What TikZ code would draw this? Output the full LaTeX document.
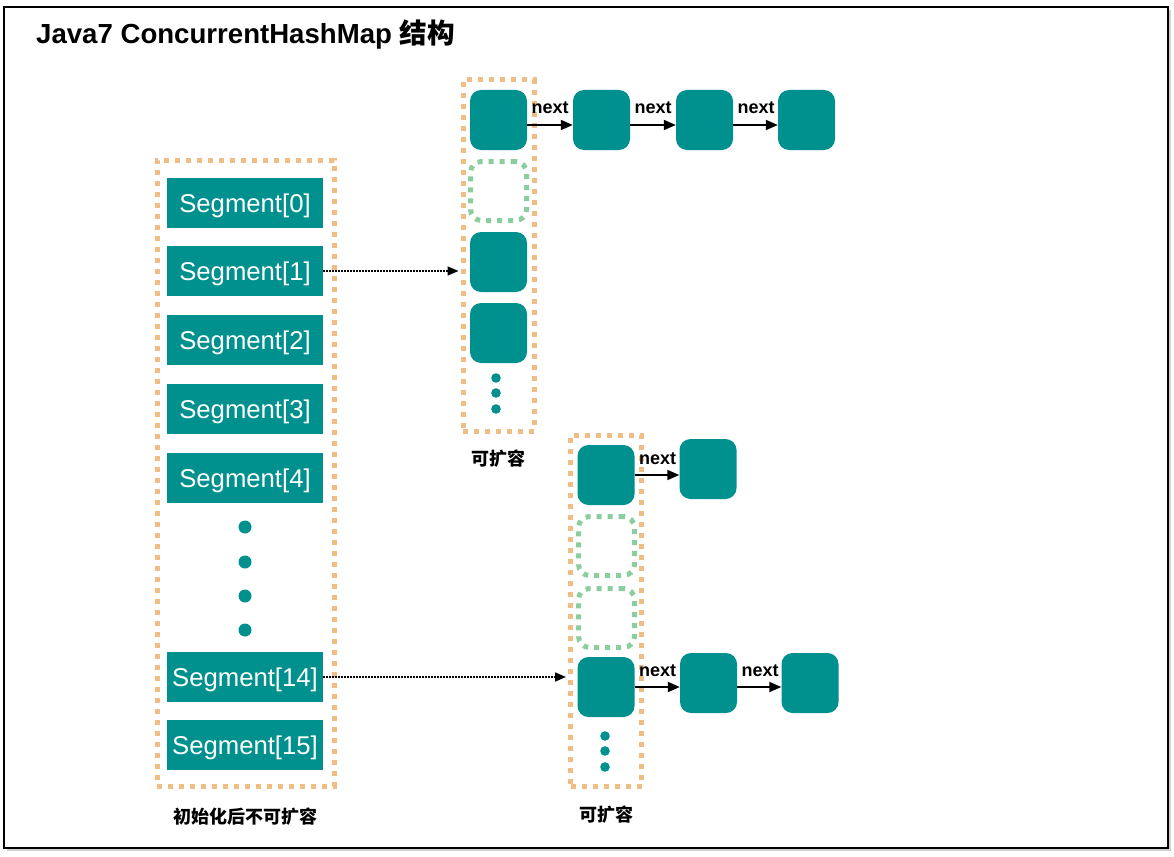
\documentclass[tikz,border=0pt]{standalone}
\usepackage{fontspec}
\setmainfont{Liberation Sans}
\newfontfamily\cjk{Noto Sans CJK SC}
\usetikzlibrary{arrows.meta}
\definecolor{teal1}{RGB}{0,145,143}
\definecolor{orangedot}{RGB}{240,190,132}
\definecolor{greendot}{RGB}{138,206,160}
\begin{document}
\begin{tikzpicture}[x=1pt,y=-1pt,
  seg/.style={fill=teal1, draw=none, minimum width=156pt, minimum height=50pt, inner sep=0pt, text=white, text height=23.1pt, text depth=4.7pt, font=\fontsize{25.7}{28}\selectfont},
  cell/.style={fill=teal1, draw=none, rounded corners=11pt, minimum width=57pt, minimum height=60pt, inner sep=0pt},
  hole/.style={draw=greendot, line width=5pt, dash pattern=on 5pt off 6pt, rounded corners=11pt, minimum width=56pt, minimum height=59pt, inner sep=0pt},
  obox/.style={draw=orangedot, line width=5pt, dash pattern=on 5pt off 6pt, inner sep=0pt},
  nextlbl/.style={font=\bfseries\fontsize{18}{20}\selectfont, inner sep=0pt},
  caption/.style={font=\cjk\bfseries\fontsize{18}{21}\selectfont, inner sep=0pt},
  chain/.style={line width=1.8pt, -{Triangle[length=12pt,width=10pt]}},
  dotarrow/.style={line width=1.5pt, dash pattern=on 1.5pt off 1.5pt, -{Triangle[length=11pt,width=9pt]}},
  vdot/.style={fill=teal1}
]
\useasboundingbox (0,0) rectangle (1174,856);
% frame
\fill[black!18] (7,10) rectangle (1171,851);
\fill[white] (4,7) rectangle (1168,848);
\draw[black, line width=2pt] (4,7) rectangle (1168,848);
\node[anchor=west, font=\bfseries\fontsize{27.6}{31}\selectfont, inner sep=0pt] (title) at (36,34) {Java7 ConcurrentHashMap {\cjk\bfseries 结构}};

% left segment array
\node[obox, minimum width=177pt, minimum height=626pt] (boxL) at (245.5,473) {};
\node[seg] (s0) at (245,203) {Segment[0]};
\node[seg] (s1) at (245,271) {Segment[1]};
\node[seg] (s2) at (245,340) {Segment[2]};
\node[seg] (s3) at (245,409) {Segment[3]};
\node[seg] (s4) at (245,478) {Segment[4]};
\fill[vdot] (245,527) circle (6.5pt);
\fill[vdot] (245,562) circle (6.5pt);
\fill[vdot] (245,596) circle (6.5pt);
\fill[vdot] (245,630) circle (6.5pt);
\node[seg] (s14) at (245,677) {Segment[14]};
\node[seg] (s15) at (245,745) {Segment[15]};
\node[caption] (capL) at (245,817) {初始化后不可扩容};

% upper table
\node[obox, minimum width=71pt, minimum height=351pt] (boxA) at (498.5,255.5) {};
\node[cell] (a0) at (498.5,120) {};
\node[hole] (a1) at (498.5,191) {};
\node[cell] (a2) at (498.5,262) {};
\node[cell] (a3) at (498.5,333) {};
\fill[vdot] (496,378) circle (4.8pt);
\fill[vdot] (496,393) circle (4.8pt);
\fill[vdot] (496,409) circle (4.8pt);
\node[caption] (capA) at (498.5,459) {可扩容};
\node[cell] (b1) at (601.5,120) {};
\node[cell] (b2) at (704.5,120) {};
\node[cell] (b3) at (806.5,120) {};
\draw[chain] ([yshift=-5pt]a0.east) -- ([yshift=-5pt]b1.west);
\draw[chain] ([yshift=-5pt]b1.east) -- ([yshift=-5pt]b2.west);
\draw[chain] ([yshift=-5pt]b2.east) -- ([yshift=-5pt]b3.west);
\node[nextlbl] (n1) at (550,108) {next};
\node[nextlbl] (n2) at (653,108) {next};
\node[nextlbl] (n3) at (756,108) {next};

% lower table
\node[obox, minimum width=71pt, minimum height=350.5pt] (boxB) at (606,610.75) {};
\node[cell] (c0) at (606,475) {};
\node[hole] (c1) at (606.5,546) {};
\node[hole] (c2) at (606.5,618) {};
\node[cell] (c3) at (606,687) {};
\fill[vdot] (605,736) circle (4.8pt);
\fill[vdot] (605,751) circle (4.8pt);
\fill[vdot] (605,767) circle (4.8pt);
\node[caption] (capB) at (606,815) {可扩容};
\node[cell] (d1) at (708,469) {};
\draw[chain] (c0.east) -- (c0.east -| d1.west);
\node[nextlbl] (n4) at (657.5,459) {next};
\node[cell] (e1) at (708.5,683) {};
\node[cell] (e2) at (810,683) {};
\draw[chain] (c3.east) -- (c3.east -| e1.west);
\draw[chain] ([yshift=-4pt]e1.east) -- ([yshift=-4pt]e2.west);
\node[nextlbl] (n5) at (657.5,671) {next};
\node[nextlbl] (n6) at (760,671) {next};

% segment pointers
\coordinate (p1) at ([xshift=-2pt]s1.east -| boxA.west);
\coordinate (p14) at ([xshift=-2pt]s14.east -| boxB.west);
\draw[dotarrow] (s1.east) -- (p1);
\draw[dotarrow] (s14.east) -- (p14);
\end{tikzpicture}
\end{document}
